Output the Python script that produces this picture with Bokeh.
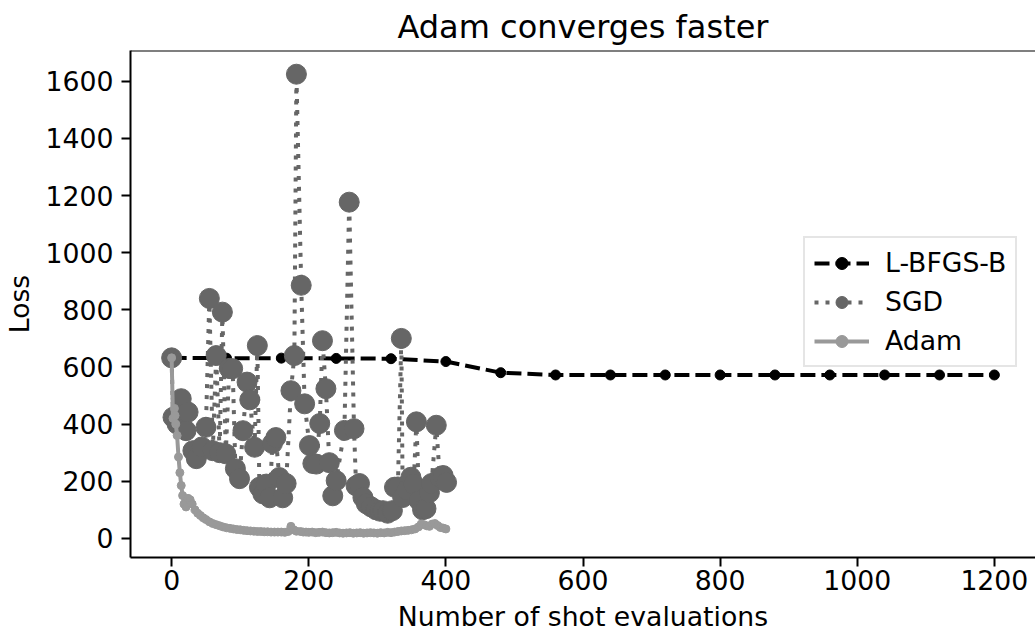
from bokeh.plotting import figure
from bokeh.models import Range1d, Legend, LegendItem, Span, FixedTicker
from bokeh.embed import file_html
from bokeh.resources import INLINE

# ---------------- data ----------------
lbfgs_x = [0, 80, 160, 240, 320, 400, 480, 560, 640, 720, 800, 880, 960, 1040, 1120, 1200]
lbfgs_y = [632, 631, 631, 630, 629, 619, 580, 572, 572, 572, 572, 572, 572, 572, 572, 572]

sgd_x = [0, 2, 8, 14, 21, 24, 31, 36, 44, 50, 55, 60, 65, 70, 74, 79, 84, 89, 93, 99,
         104, 110, 114, 121, 125, 128, 133, 138, 143, 147, 152, 157, 162, 167, 174, 179,
         182, 189, 194, 201, 206, 211, 216, 220, 225, 230, 235, 240, 252, 259, 266, 269,
         274, 279, 284, 291, 298, 304, 308, 315, 322, 325, 330, 335, 337, 343, 349, 353,
         357, 361, 366, 371, 376, 379, 386, 391, 396, 401]
sgd_y = [632, 424, 400, 489, 377, 442, 307, 279, 320, 389, 840, 307, 640, 300, 792, 296,
         595, 594, 244, 209, 377, 547, 485, 319, 675, 179, 156, 190, 142, 332, 353, 213,
         142, 192, 517, 640, 1625, 886, 471, 325, 262, 260, 402, 692, 524, 265, 149, 202,
         378, 1177, 384, 184, 192, 143, 121, 110, 100, 95, 97, 88, 97, 179, 180, 700, 143,
         170, 214, 190, 408, 132, 100, 104, 160, 192, 396, 214, 220, 196]

adam_x = [0, 2, 4, 5, 6, 8, 10, 12, 14, 16, 18, 21, 24, 27, 30, 34, 38, 42, 46, 50, 55,
          60, 65, 70, 75, 80, 85, 90, 95, 100, 105, 110, 115, 120, 125, 130, 135, 140, 145,
          150, 155, 160, 165, 170, 174, 178, 182, 188, 192, 196, 200, 205, 210, 215, 220,
          225, 230, 235, 240, 245, 250, 255, 260, 265, 270, 275, 280, 285, 290, 295, 300,
          305, 310, 315, 320, 325, 330, 335, 340, 345, 350, 355, 360, 364, 368, 372, 376,
          380, 384, 388, 392, 396, 400]
adam_y = [632, 420, 455, 430, 400, 360, 285, 230, 185, 150, 120, 110, 140, 135, 120, 100,
          88, 80, 72, 66, 58, 52, 48, 44, 40, 37, 35, 33, 31, 30, 28, 27, 26, 25, 24, 24,
          23, 23, 22, 22, 22, 22, 21, 24, 42, 30, 25, 24, 22, 22, 21, 22, 20, 21, 22, 20,
          19, 20, 21, 19, 18, 19, 20, 18, 19, 20, 18, 19, 20, 19, 18, 20, 19, 21, 20, 22,
          24, 26, 27, 28, 30, 33, 40, 50, 48, 44, 42, 50, 52, 45, 38, 36, 33]

x_ticks = [0, 200, 400, 600, 800, 1000, 1200]
y_ticks = [0, 200, 400, 600, 800, 1000, 1200, 1400, 1600]

FONT = "DejaVu Sans"
FS = "26.7px"

p = figure(width=1035, height=635, output_backend="svg", toolbar_location=None,
           x_range=Range1d(-60, 1260), y_range=Range1d(-67, 1708),
           title="Adam converges faster",
           min_border_left=130, min_border_right=0, min_border_top=50, min_border_bottom=78)
p.outline_line_color = None
p.background_fill_color = "white"
p.border_fill_color = "white"
p.xgrid.visible = False
p.ygrid.visible = False

p.title.text_font = FONT
p.title.text_font_size = "32px"
p.title.text_font_style = "normal"
p.title.align = "center"
p.title.text_color = "black"

for ax in (p.xaxis[0], p.yaxis[0]):
    ax.axis_line_width = 2
    ax.axis_line_color = "black"
    ax.major_tick_line_width = 2
    ax.major_tick_out = 9
    ax.major_tick_in = 0
    ax.minor_tick_line_color = None
    ax.major_label_text_font = FONT
    ax.major_label_text_font_size = FS
    ax.major_label_text_color = "black"
    ax.axis_label_text_font = FONT
    ax.axis_label_text_font_size = FS
    ax.axis_label_text_font_style = "normal"
    ax.axis_label_text_color = "black"

p.xaxis.ticker = FixedTicker(ticks=x_ticks)
p.yaxis.ticker = FixedTicker(ticks=y_ticks)
p.xaxis.axis_label = "Number of shot evaluations"
p.yaxis.axis_label = "Loss"
p.xaxis.major_label_standoff = 3
p.yaxis.major_label_standoff = 8
p.xaxis.axis_label_standoff = 8
p.yaxis.axis_label_standoff = 8

p.add_layout(Span(location=1708, dimension="width", line_color="black", line_width=2))

l1 = p.line(lbfgs_x, lbfgs_y, line_color="black", line_width=4, line_dash="15 6")
s1 = p.scatter(lbfgs_x, lbfgs_y, size=10, fill_color="black", line_color="black")

l2 = p.line(sgd_x, sgd_y, line_color="#666666", line_width=4, line_dash="4 7")
s2 = p.scatter(sgd_x, sgd_y, size=20, fill_color="#666666", line_color="#666666")

l3 = p.line(adam_x, adam_y, line_color="#999999", line_width=4)
s3 = p.scatter(adam_x, adam_y, size=8, fill_color="#999999", line_color="#999999")

legend = Legend(items=[LegendItem(label="L-BFGS-B", renderers=[l1, s1]),
                       LegendItem(label="SGD", renderers=[l2, s2]),
                       LegendItem(label="Adam", renderers=[l3, s3])],
                location=(673, 190))
legend.label_text_font = FONT
legend.label_text_font_size = FS
legend.label_text_color = "black"
legend.glyph_width = 55
legend.glyph_height = 30
legend.spacing = 8
legend.padding = 9
legend.margin = 0
legend.label_standoff = 16
legend.border_line_color = "#cccccc"
legend.border_line_width = 2
legend.background_fill_alpha = 0.8
p.add_layout(legend, "center")

with open("out.html", "w") as f:
    f.write(file_html(p, INLINE))
